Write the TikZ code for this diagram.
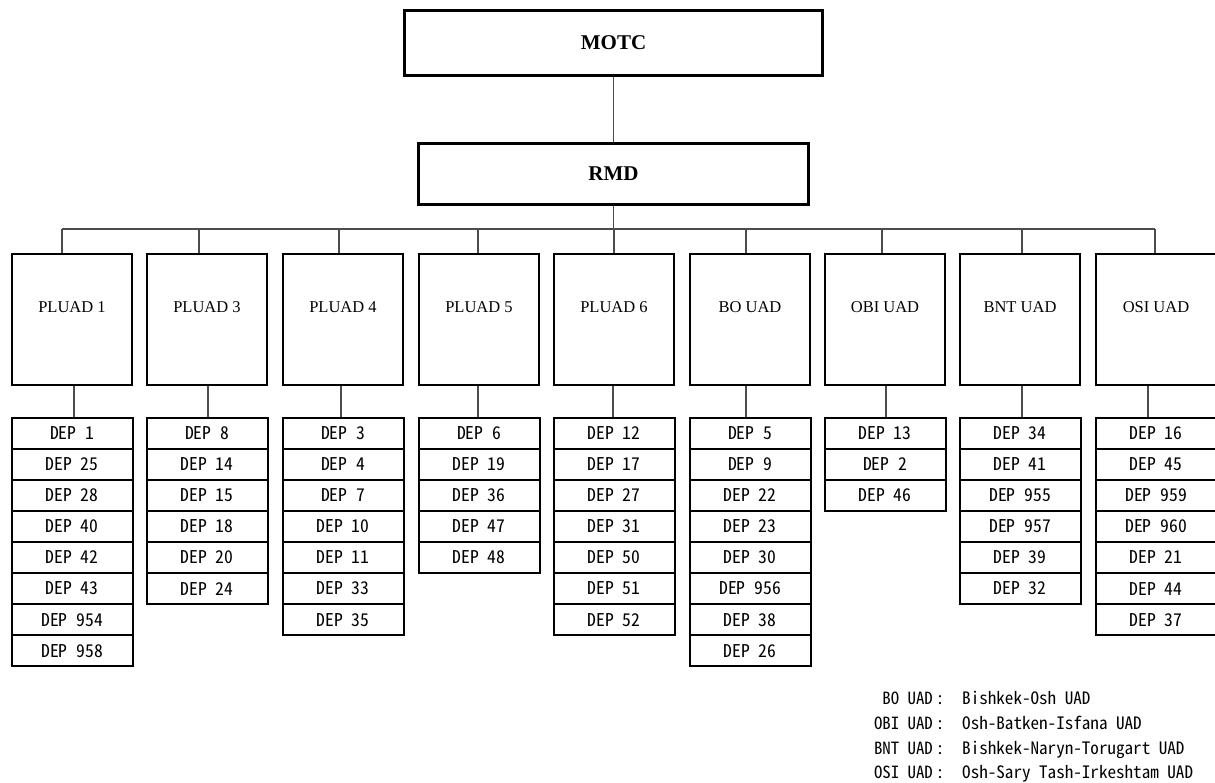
\documentclass[tikz,border=0pt]{standalone}
\usepackage{fontspec}
\setmainfont{Liberation Serif}
\newfontfamily\gothic{Noto Sans CJK JP}[RawFeature=+hwid]
\newcommand\hs{\makebox[0.5em]{}}
\begin{document}
\begin{tikzpicture}[x=1pt,y=-1pt,
  conn/.style={draw=black!70, line width=1.1pt},
  topbox/.style={draw, line width=2.6pt, inner sep=0pt, font=\fontsize{21}{21}\selectfont\bfseries},
  ubox/.style={draw, line width=2.4pt, minimum width=120pt, minimum height=131pt, inner sep=0pt},
  ulab/.style={font=\fontsize{16.5}{16.5}\selectfont, inner sep=0pt},
  dep/.style={draw, line width=2pt, minimum width=121pt, minimum height=31.1pt, inner sep=0pt, font=\gothic\fontsize{17.6}{17.6}\selectfont},
  leg/.style={font=\gothic\fontsize{16.8}{16.8}\selectfont, inner sep=0pt},
  legv/.style={font=\gothic\fontsize{17.1}{17.1}\selectfont, inner sep=0pt}]
\useasboundingbox (0,0) rectangle (1215,782);

\node[topbox, minimum width=418pt, minimum height=65pt] (motc) at (613.5,43) {MOTC};
\node[topbox, minimum width=390pt, minimum height=61pt] (rmd) at (613.5,174) {RMD};
\draw[conn] (motc.south) -- (rmd.north);

\foreach \i/\L/\T/\B/\nm/\deps in {
  1/11/62/74/PLUAD 1/{1,25,28,40,42,43,954,958},
  2/146/199/208/PLUAD 3/{8,14,15,18,20,24},
  3/282/339/341/PLUAD 4/{3,4,7,10,11,33,35},
  4/418/478/478/PLUAD 5/{6,19,36,47,48},
  5/553/614/613/PLUAD 6/{12,17,27,31,50,51,52},
  6/689/746/746/BO UAD/{5,9,22,23,30,956,38,26},
  7/824/882/886/OBI UAD/{13,2,46},
  8/959/1022/1022/BNT UAD/{34,41,955,957,39,32},
  9/1095/1155/1148/OSI UAD/{16,45,959,960,21,44,37}}{
  \coordinate (t\i) at (\T,229);
  \coordinate (b\i) at (\B,400);
  \node[ubox] (u\i) at (\L+61,319.5) {};
  \node[ulab] (ul\i) at (\L+61,307) {\nm};
  \draw[conn] (t\i) -- (t\i |- u\i.north);
  \foreach \d [count=\j] in \deps {
    \node[dep] (d\i-\j) at (\L+61, 417.5+31.1*\j-15.55) {DEP\hs\d};
  }
  \draw[conn] (u\i.south -| b\i) -- (d\i-1.north -| b\i);
}
\draw[conn] (t1) -- (t9);
\draw[conn] (rmd.south) -- (rmd.south |- t1);

\node[leg, anchor=base east] (k1) at (933,704.7) {BO\hs UAD};
\node[leg, anchor=base] (c1) at (940,704.7) {：};
\node[legv, anchor=base west] (v1) at (962,704.7) {Bishkek-Osh\hs UAD};
\node[leg, anchor=base east] (k2) at (933,729.5) {OBI\hs UAD};
\node[leg, anchor=base] (c2) at (940,729.5) {：};
\node[legv, anchor=base west] (v2) at (962,729.5) {Osh-Batken-Isfana\hs UAD};
\node[leg, anchor=base east] (k3) at (933,754) {BNT\hs UAD};
\node[leg, anchor=base] (c3) at (940,754) {：};
\node[legv, anchor=base west] (v3) at (962,754) {Bishkek-Naryn-Torugart\hs UAD};
\node[leg, anchor=base east] (k4) at (933,778.6) {OSI\hs UAD};
\node[leg, anchor=base] (c4) at (940,778.6) {：};
\node[legv, anchor=base west] (v4) at (962,778.6) {Osh-Sary\hs Tash-Irkeshtam\hs UAD};
\end{tikzpicture}
\end{document}
